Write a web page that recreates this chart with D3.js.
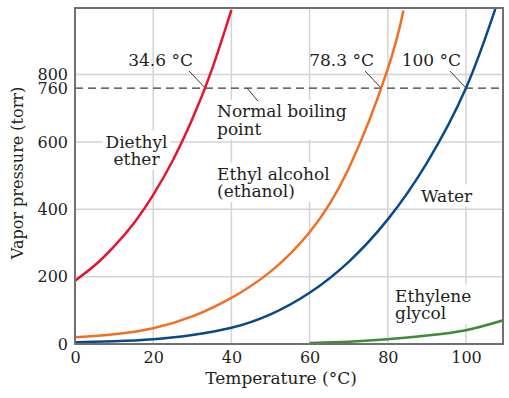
<!DOCTYPE html>
<html>
<head>
<meta charset="utf-8">
<script src="https://cdn.jsdelivr.net/npm/d3@7/dist/d3.min.js"></script>
<style>
body { margin: 0; background: #fff; }
svg { display: block; }
text { font-family: "DejaVu Serif", serif; fill: #231f20; }
</style>
</head>
<body>
<div id="chart"></div>
<script>
// values (temperature in °C, vapor pressure in torr)
var etherT = [0, 5, 10, 15, 20, 25, 30, 35, 40];
var etherP = [188, 233, 290, 358, 443, 545, 668, 815, 992];

var ethanolT = [0, 10, 20, 30, 40, 50, 60, 70, 80, 84];
var ethanolP = [20, 29, 47, 82, 137, 215, 332, 521, 817, 990];

var waterT = [0, 10, 20, 30, 40, 50, 60, 70, 80, 90, 100, 107.5];
var waterP = [5, 8, 14, 27, 48, 88, 152, 244, 370, 538, 760, 995];

var glycolT = [60, 70, 80, 90, 100, 110];
var glycolP = [3, 7, 14, 25, 41, 72];

var xTicks = [0, 20, 40, 60, 80, 100];
var yTicks = [0, 200, 400, 600, 760, 800];
var xGrid = [20, 40, 60, 80, 100];
var yGrid = [200, 400, 600, 800];

var boilingLabels = ['34.6 \u00b0C', '78.3 \u00b0C', '100 \u00b0C'];
var boilingCross = [33.3, 78.3, 100]; // where the curves meet the dashed line in the picture

var width = 509,
    height = 398,
    plot = {left: 75, right: 503, top: 8, bottom: 344};

var x = d3.scaleLinear().domain([0, 100]).range([75, 466]);
var y = d3.scaleLinear().domain([0, 800]).range([344, 74.6]);

var svg = d3.select('#chart')
    .append('svg')
    .attr('width', width)
    .attr('height', height);

svg.append('clipPath')
    .attr('id', 'clip')
    .append('rect')
    .attr('x', plot.left)
    .attr('y', plot.top)
    .attr('width', plot.right - plot.left)
    .attr('height', plot.bottom - plot.top);

// grid
var grid = svg.append('g').attr('stroke', '#d3d3d3').attr('stroke-width', 1.5);
grid.selectAll('.gx')
    .data(xGrid)
    .enter()
    .append('line')
    .attr('x1', d => x(d)).attr('x2', d => x(d))
    .attr('y1', plot.top).attr('y2', plot.bottom);
grid.selectAll('.gy')
    .data(yGrid)
    .enter()
    .append('line')
    .attr('x1', plot.left).attr('x2', plot.right)
    .attr('y1', d => y(d)).attr('y2', d => y(d));

// text blocks with white boxes behind them
var notes = svg.append('g');

function note(lines, px, py, anchor) {
    var g = notes.append('g');
    var t = g.append('text')
        .attr('font-size', 17)
        .attr('text-anchor', anchor || 'start');
    lines.forEach((s, i) => {
        t.append('tspan')
            .attr('x', px)
            .attr('y', py + i * 17.5)
            .text(s);
    });
    var b = t.node().getBBox();
    g.insert('rect', 'text')
        .attr('x', b.x - 3)
        .attr('y', b.y - 1)
        .attr('width', b.width + 6)
        .attr('height', b.height + 2)
        .attr('fill', '#fff');
    return g;
}

note(['Diethyl', 'ether'], 136.5, 147.5, 'middle');
note(['Normal boiling', 'point'], 217, 117);
note(['Ethyl alcohol', '(ethanol)'], 217, 179.5);
note(['Water'], 421, 201.5);
note(['Ethylene', 'glycol'], 395, 301.5);

var bl = [193, 374, 461];
boilingLabels.forEach((s, i) => {
    notes.append('text')
        .attr('font-size', 17)
        .attr('text-anchor', 'end')
        .attr('x', bl[i])
        .attr('y', 66)
        .text(s);
});

// dashed 760 line
svg.append('line')
    .attr('x1', plot.left).attr('x2', plot.right)
    .attr('y1', y(760)).attr('y2', y(760))
    .attr('stroke', '#3a3a3a')
    .attr('stroke-width', 1.2)
    .attr('stroke-dasharray', '8,5');

// leaders
var leaders = svg.append('g').attr('stroke', '#3a3a3a').attr('stroke-width', 1);
leaders.selectAll('line')
    .data(boilingCross)
    .enter()
    .append('line')
    .attr('x1', d => x(d) - 16)
    .attr('y1', y(760) - 17)
    .attr('x2', d => x(d))
    .attr('y2', y(760));
leaders.append('line')
    .attr('x1', 247).attr('y1', y(760))
    .attr('x2', 258).attr('y2', y(760) + 13);

// curves
var line = d3.line()
    .x(d => x(d[0]))
    .y(d => y(d[1]))
    .curve(d3.curveNatural);

var series = [
    {t: etherT, p: etherP, color: '#e5152b'},
    {t: ethanolT, p: ethanolP, color: '#f26e22'},
    {t: waterT, p: waterP, color: '#084a89'},
    {t: glycolT, p: glycolP, color: '#3f8a35'}
];

svg.append('g')
    .attr('clip-path', 'url(#clip)')
    .selectAll('path')
    .data(series)
    .enter()
    .append('path')
    .attr('fill', 'none')
    .attr('stroke', d => d.color)
    .attr('stroke-width', 2.5)
    .attr('d', d => line(d.t.map((v, i) => [v, d.p[i]])));

// frame
svg.append('rect')
    .attr('x', plot.left)
    .attr('y', plot.top)
    .attr('width', plot.right - plot.left)
    .attr('height', plot.bottom - plot.top)
    .attr('fill', 'none')
    .attr('stroke', '#707070')
    .attr('stroke-width', 2);

// axes
var xAxis = svg.append('g')
    .attr('transform', 'translate(0,' + plot.bottom + ')')
    .call(d3.axisBottom(x).tickValues(xTicks).tickSize(0).tickPadding(8));
var yAxis = svg.append('g')
    .attr('transform', 'translate(' + plot.left + ',0)')
    .call(d3.axisLeft(y).tickValues(yTicks).tickSize(0).tickPadding(7));
[xAxis, yAxis].forEach(a => {
    a.select('.domain').remove();
    a.selectAll('text')
        .attr('font-family', '"DejaVu Serif", serif')
        .attr('font-size', 16)
        .attr('fill', '#231f20');
});

svg.append('text')
    .attr('x', 281)
    .attr('y', 384)
    .attr('text-anchor', 'middle')
    .attr('font-size', 17)
    .text('Temperature (\u00b0C)');

svg.append('text')
    .attr('transform', 'translate(23,173)rotate(-90)')
    .attr('text-anchor', 'middle')
    .attr('font-size', 16)
    .text('Vapor pressure (torr)');
</script>
</body>
</html>
